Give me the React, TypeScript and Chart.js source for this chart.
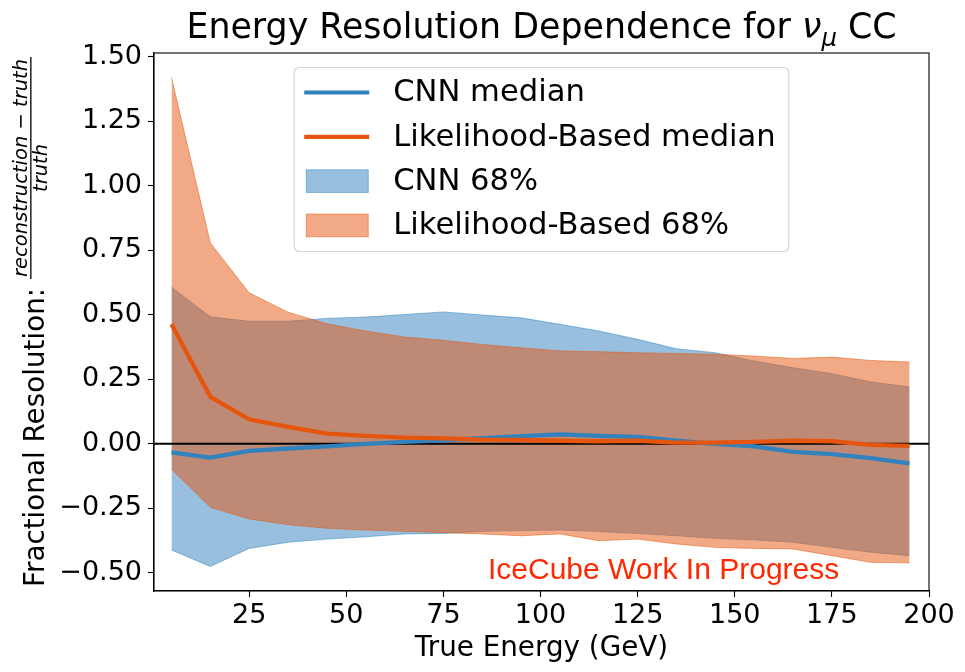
import React, { useEffect, useRef } from "react";
import { Chart, registerables } from "chart.js";

Chart.register(...registerables);

// ---------------- data ----------------
const X_VALUES = [5, 15, 25, 35, 45, 55, 65, 75, 85, 95, 105, 115, 125, 135, 145, 155, 165, 175, 185, 195];

const CNN_MEDIAN = [-0.033, -0.053, -0.027, -0.018, -0.01, 0.0, 0.008, 0.014, 0.022, 0.03, 0.037, 0.031, 0.027, 0.012, 0.0, -0.01, -0.031, -0.04, -0.055, -0.076];
const LLH_MEDIAN = [0.463, 0.182, 0.095, 0.066, 0.04, 0.031, 0.024, 0.021, 0.016, 0.015, 0.012, 0.01, 0.012, 0.005, 0.005, 0.008, 0.012, 0.01, -0.004, -0.008];

const CNN_UPPER = [0.607, 0.492, 0.475, 0.475, 0.486, 0.491, 0.501, 0.511, 0.499, 0.488, 0.463, 0.437, 0.405, 0.368, 0.353, 0.321, 0.295, 0.272, 0.24, 0.22];
const CNN_LOWER = [-0.411, -0.475, -0.405, -0.381, -0.369, -0.36, -0.349, -0.347, -0.339, -0.336, -0.334, -0.34, -0.347, -0.356, -0.366, -0.372, -0.381, -0.401, -0.42, -0.433];

const LLH_UPPER = [1.419, 0.778, 0.585, 0.51, 0.465, 0.437, 0.414, 0.401, 0.385, 0.372, 0.36, 0.357, 0.353, 0.35, 0.347, 0.34, 0.331, 0.336, 0.323, 0.317];
const LLH_LOWER = [-0.098, -0.246, -0.291, -0.313, -0.327, -0.334, -0.339, -0.344, -0.349, -0.356, -0.349, -0.375, -0.369, -0.388, -0.401, -0.405, -0.407, -0.433, -0.459, -0.461];

const X_TICKS = [25, 50, 75, 100, 125, 150, 175, 200];
const Y_TICKS = [-0.5, -0.25, 0, 0.25, 0.5, 0.75, 1.0, 1.25, 1.5];
const X_MIN = 0.5;
const X_MAX = 200;
const Y_MIN = -0.57;
const Y_MAX = 1.514;
const ZERO_LEVEL = 0;

const LEGEND_LABELS = ["CNN median", "Likelihood-Based median", "CNN 68%", "Likelihood-Based 68%"];
const TITLE_MAIN = "Energy Resolution Dependence for ";
const TITLE_NU = "ν";
const TITLE_MU = "μ";
const TITLE_END = " CC";
const X_LABEL = "True Energy (GeV)";
const Y_LABEL_MAIN = "Fractional Resolution: ";
const Y_LABEL_NUM = "reconstruction − truth";
const Y_LABEL_DEN = "truth";
const WATERMARK = "IceCube Work In Progress";

// ---------------- styles ----------------
const FONT = "'DejaVu Sans', sans-serif";
const BLUE = "rgb(49,130,189)";
const ORANGE = "rgb(230,85,13)";
const BLUE_FILL = "rgba(49,130,189,0.5)";
const ORANGE_FILL = "rgba(230,85,13,0.5)";

const W = 965;
const H = 672;

const pts = (ys: number[]) => X_VALUES.map((x, i) => ({ x, y: ys[i] }));

const fmtY = (v: number) => {
  const s = Math.abs(v).toFixed(2);
  return v < -1e-9 ? "\u2212" + s : s;
};

const decorPlugin = {
  id: "decor",
  afterDraw(chart: any) {
    const ctx: CanvasRenderingContext2D = chart.ctx;
    const a = chart.chartArea;
    ctx.save();

    // spines
    ctx.strokeStyle = "#000";
    ctx.lineWidth = 1.1;
    ctx.strokeRect(a.left, a.top, a.right - a.left, a.bottom - a.top);

    const cx = (a.left + a.right) / 2;

    // title
    ctx.fillStyle = "#000";
    ctx.textBaseline = "alphabetic";
    ctx.textAlign = "left";
    const tSize = 34.8;
    ctx.font = `${tSize}px ${FONT}`;
    const w1 = ctx.measureText(TITLE_MAIN).width;
    ctx.font = `italic ${tSize}px ${FONT}`;
    const w2 = ctx.measureText(TITLE_NU).width;
    ctx.font = `italic ${tSize * 0.7}px ${FONT}`;
    const w3 = ctx.measureText(TITLE_MU).width;
    ctx.font = `${tSize}px ${FONT}`;
    const w4 = ctx.measureText(TITLE_END).width;
    let tx = cx - (w1 + w2 + w3 + w4) / 2;
    const tBase = 37.5;
    ctx.font = `${tSize}px ${FONT}`;
    ctx.fillText(TITLE_MAIN, tx, tBase);
    tx += w1;
    ctx.font = `italic ${tSize}px ${FONT}`;
    ctx.fillText(TITLE_NU, tx, tBase);
    tx += w2;
    ctx.font = `italic ${tSize * 0.7}px ${FONT}`;
    ctx.fillText(TITLE_MU, tx, tBase + 8);
    tx += w3;
    ctx.font = `${tSize}px ${FONT}`;
    ctx.fillText(TITLE_END, tx, tBase);

    // x label
    ctx.font = `27.8px ${FONT}`;
    ctx.textAlign = "center";
    ctx.fillText(X_LABEL, cx, 656);

    // y label (rotated)
    const cy = (a.top + a.bottom) / 2;
    ctx.save();
    ctx.translate(44, cy);
    ctx.rotate(-Math.PI / 2);
    ctx.textAlign = "left";
    ctx.font = `27.8px ${FONT}`;
    const wm = ctx.measureText(Y_LABEL_MAIN).width;
    ctx.font = `italic 19.5px ${FONT}`;
    const wn = ctx.measureText(Y_LABEL_NUM).width;
    const wd = ctx.measureText(Y_LABEL_DEN).width;
    const wf = Math.max(wn, wd) + 4;
    const total = wm + wf;
    const u0 = -total / 2;
    ctx.font = `27.8px ${FONT}`;
    ctx.fillText(Y_LABEL_MAIN, u0, 0);
    const fc = u0 + wm + wf / 2;
    ctx.font = `italic 19.5px ${FONT}`;
    ctx.textAlign = "center";
    ctx.fillText(Y_LABEL_NUM, fc, -17);
    ctx.fillText(Y_LABEL_DEN, fc, 3);
    ctx.fillRect(u0 + wm, -13.8, wf, 1.3);
    ctx.restore();

    // watermark
    ctx.font = `30px 'Liberation Sans', Arial, sans-serif`;
    ctx.fillStyle = "rgb(255,40,0)";
    ctx.textAlign = "left";
    ctx.fillText(WATERMARK, 488, 579);

    // legend
    const lf = 30.6;
    ctx.font = `${lf}px ${FONT}`;
    let maxText = 0;
    LEGEND_LABELS.forEach((l) => (maxText = Math.max(maxText, ctx.measureText(l).width)));
    const lw = 99 + maxText + 13;
    const lx = cx - lw / 2;
    const ly = a.top + 14.5;
    const lh = 184;
    const r = 5;
    ctx.beginPath();
    ctx.moveTo(lx + r, ly);
    ctx.lineTo(lx + lw - r, ly);
    ctx.arcTo(lx + lw, ly, lx + lw, ly + r, r);
    ctx.lineTo(lx + lw, ly + lh - r);
    ctx.arcTo(lx + lw, ly + lh, lx + lw - r, ly + lh, r);
    ctx.lineTo(lx + r, ly + lh);
    ctx.arcTo(lx, ly + lh, lx, ly + lh - r, r);
    ctx.lineTo(lx, ly + r);
    ctx.arcTo(lx, ly, lx + r, ly, r);
    ctx.closePath();
    ctx.fillStyle = "rgba(255,255,255,0.8)";
    ctx.fill();
    ctx.strokeStyle = "#d6d6d6";
    ctx.lineWidth = 1.2;
    ctx.stroke();

    const rows = [ly + 25, ly + 69.3, ly + 113.6, ly + 157.9];
    const hx0 = lx + 10;
    const hx1 = lx + 75;
    // line handles
    ctx.lineWidth = 4.2;
    ctx.strokeStyle = BLUE;
    ctx.beginPath();
    ctx.moveTo(hx0, rows[0]);
    ctx.lineTo(hx1, rows[0]);
    ctx.stroke();
    ctx.strokeStyle = ORANGE;
    ctx.beginPath();
    ctx.moveTo(hx0, rows[1]);
    ctx.lineTo(hx1, rows[1]);
    ctx.stroke();
    // patch handles
    ctx.lineWidth = 1;
    const ph = 22.7;
    ctx.fillStyle = BLUE_FILL;
    ctx.strokeStyle = BLUE_FILL;
    ctx.fillRect(hx0 + 2, rows[2] - ph / 2, hx1 - hx0 - 3, ph);
    ctx.strokeRect(hx0 + 2, rows[2] - ph / 2, hx1 - hx0 - 3, ph);
    ctx.fillStyle = ORANGE_FILL;
    ctx.strokeStyle = ORANGE_FILL;
    ctx.fillRect(hx0 + 2, rows[3] - ph / 2, hx1 - hx0 - 3, ph);
    ctx.strokeRect(hx0 + 2, rows[3] - ph / 2, hx1 - hx0 - 3, ph);

    ctx.fillStyle = "#000";
    ctx.textBaseline = "middle";
    ctx.textAlign = "left";
    ctx.font = `${lf}px ${FONT}`;
    LEGEND_LABELS.forEach((l, i) => ctx.fillText(l, lx + 99, rows[i] + 1));

    ctx.restore();
  },
};

export default function App() {
  const ref = useRef<HTMLCanvasElement | null>(null);

  useEffect(() => {
    document.body.style.margin = "0";
    if (!ref.current) return;
    const lineBase = { pointRadius: 0, pointHoverRadius: 0, tension: 0 };
    const chart = new Chart(ref.current, {
      type: "line",
      data: {
        datasets: [
          {
            ...lineBase,
            label: "CNN 68% upper",
            data: pts(CNN_UPPER),
            borderColor: BLUE_FILL,
            borderWidth: 1,
            backgroundColor: BLUE_FILL,
            fill: 1,
            order: 10,
          },
          {
            ...lineBase,
            label: "CNN 68% lower",
            data: pts(CNN_LOWER),
            borderColor: BLUE_FILL,
            borderWidth: 1,
            backgroundColor: BLUE_FILL,
            fill: false,
            order: 10,
          },
          {
            ...lineBase,
            label: "Likelihood-Based 68% upper",
            data: pts(LLH_UPPER),
            borderColor: ORANGE_FILL,
            borderWidth: 1,
            backgroundColor: ORANGE_FILL,
            fill: 3,
            order: 8,
          },
          {
            ...lineBase,
            label: "Likelihood-Based 68% lower",
            data: pts(LLH_LOWER),
            borderColor: ORANGE_FILL,
            borderWidth: 1,
            backgroundColor: ORANGE_FILL,
            fill: false,
            order: 8,
          },
          {
            ...lineBase,
            label: "zero",
            data: [
              { x: X_MIN, y: ZERO_LEVEL },
              { x: X_MAX, y: ZERO_LEVEL },
            ],
            borderColor: "#000",
            borderWidth: 2,
            fill: false,
            order: 6,
          },
          {
            ...lineBase,
            label: "CNN median",
            data: pts(CNN_MEDIAN),
            borderColor: BLUE,
            borderWidth: 4.3,
            fill: false,
            order: 4,
          },
          {
            ...lineBase,
            label: "Likelihood-Based median",
            data: pts(LLH_MEDIAN),
            borderColor: ORANGE,
            borderWidth: 4.3,
            fill: false,
            order: 2,
          },
        ],
      },
      options: {
        animation: false,
        responsive: false,
        devicePixelRatio: 1,
        layout: { padding: { top: 53, right: 36, left: 0, bottom: 0 } },
        plugins: {
          legend: { display: false },
          tooltip: { enabled: false },
          title: { display: false },
        },
        scales: {
          x: {
            type: "linear",
            min: X_MIN,
            max: X_MAX,
            afterBuildTicks: (s: any) => {
              s.ticks = X_TICKS.map((v) => ({ value: v }));
            },
            afterFit: (s: any) => {
              s.height = 81;
            },
            grid: {
              display: true,
              drawOnChartArea: false,
              drawTicks: true,
              tickLength: 6,
              tickColor: "#000",
              tickWidth: 1.1,
            },
            border: { display: true, color: "#000", width: 1.1 },
            ticks: {
              color: "#000",
              font: { family: FONT, size: 27 },
              padding: 3,
              maxRotation: 0,
              autoSkip: false,
              callback: (v: any) => String(v),
            },
          },
          y: {
            type: "linear",
            min: Y_MIN,
            max: Y_MAX,
            afterBuildTicks: (s: any) => {
              s.ticks = Y_TICKS.map((v) => ({ value: v }));
            },
            afterFit: (s: any) => {
              s.width = 154;
            },
            grid: {
              display: true,
              drawOnChartArea: false,
              drawTicks: true,
              tickLength: 6,
              tickColor: "#000",
              tickWidth: 1.1,
            },
            border: { display: true, color: "#000", width: 1.1 },
            ticks: {
              color: "#000",
              font: { family: FONT, size: 27 },
              padding: 6,
              autoSkip: false,
              callback: (v: any) => fmtY(Number(v)),
            },
          },
        },
      },
      plugins: [decorPlugin],
    } as any);
    return () => chart.destroy();
  }, []);

  return (
    <div style={{ width: W, height: H, position: "relative" }}>
      <canvas ref={ref} width={W} height={H} style={{ width: W, height: H, display: "block" }} />
    </div>
  );
}
